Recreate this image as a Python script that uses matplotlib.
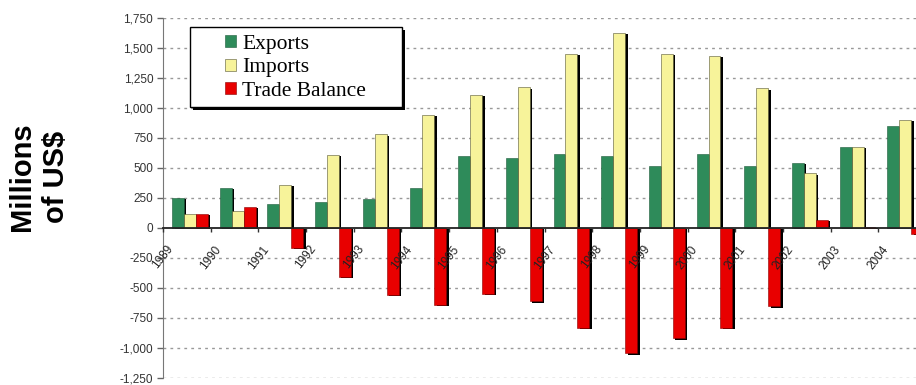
import numpy as np
import matplotlib
matplotlib.use('Agg')
import matplotlib.pyplot as plt
import matplotlib.patheffects as pe
from matplotlib.patches import Rectangle
from matplotlib.ticker import FuncFormatter

years = ['1989', '1990', '1991', '1992', '1993', '1994', '1995', '1996',
         '1997', '1998', '1999', '2000', '2001', '2002', '2003', '2004']
exports = [249, 333, 204, 218, 240, 333, 601, 584, 618, 598, 514, 618, 520, 545, 679, 849]
imports = [120, 142, 360, 612, 780, 945, 1112, 1171, 1450, 1624, 1450, 1433, 1163, 455, 673, 903]
balance = [115, 176, -165, -411, -556, -640, -551, -612, -835, -1045, -920, -835, -654, 70, 6, -50]

c_exp = '#2e8b5a'
c_imp = '#f7f39a'
c_bal = '#e80000'

fig = plt.figure(figsize=(9.16, 3.85), dpi=100)
ax = fig.add_axes([163/916, 1-378/385, 763/916, 360/385])

# axis line sits on zero, set before the ticks so they are not reset
ax.spines['top'].set_visible(False)
ax.spines['right'].set_visible(False)
ax.spines['bottom'].set_position(('data', 0))
ax.spines['bottom'].set_color('#222222')
ax.spines['bottom'].set_linewidth(1.3)
ax.spines['bottom'].set_zorder(4)
ax.spines['left'].set_color('#777777')

x = np.arange(len(years))
w = 0.25
shadow = [pe.SimplePatchShadow(offset=(1.8, -0.8), shadow_rgbFace='k', alpha=1.0), pe.Normal()]

b1 = ax.bar(x, exports, w, align='edge', color=c_exp, edgecolor='#1d5a3a', lw=0.4, zorder=3)
b2 = ax.bar(x+w, imports, w, align='edge', color=c_imp, edgecolor='#555533', lw=0.4, zorder=3)
b3 = ax.bar(x+2*w, balance, w, align='edge', color=c_bal, edgecolor='#8a0000', lw=0.4, zorder=3)
for bars in (b1, b2, b3):
    for p in bars:
        p.set_path_effects(shadow)

ax.set_xlim(-0.19, len(years)-0.19)
ax.set_ylim(-1250, 1750)

yt = np.arange(-1250, 1751, 250)
ax.set_yticks(yt)
ax.yaxis.set_major_formatter(FuncFormatter(lambda v, p: '{:,}'.format(int(v))))
for v in yt:
    if v != 0:
        ax.axhline(v, color='#999999', lw=1.0, ls=(0, (2, 3)), zorder=1)

ax.set_xticks(x - 0.19)
ax.set_xticklabels(years)
ax.tick_params(axis='x', direction='out', length=3, width=1, pad=8, color='#333333',
               labelrotation=52, labelsize=8.5, labelcolor='#222222')
ax.tick_params(axis='y', direction='out', length=4, width=1, pad=3, color='#666666',
               labelsize=8.5, labelcolor='#333333')
for lab in ax.get_xticklabels():
    lab.set_fontfamily('Liberation Sans')
    lab.set_ha('center')
    lab.set_rotation_mode('default')
for lab in ax.get_yticklabels():
    lab.set_fontfamily('Liberation Sans')
ax.xaxis.set_zorder(4.5)

# legend box
box = Rectangle((27/763, (378-107)/360), 212/763, 80/360, transform=ax.transAxes,
                facecolor='white', edgecolor='black', lw=1.0, zorder=6)
box.set_path_effects([pe.SimplePatchShadow(offset=(2.5, -2.5), shadow_rgbFace='k', alpha=1.0),
                      pe.Normal()])
ax.add_patch(box)
leg = ax.legend([b1[0], b2[0], b3[0]], ['Exports', 'Imports', 'Trade Balance'],
                loc='upper left', bbox_to_anchor=(62/763, (378-35)/360),
                frameon=False, borderpad=0, borderaxespad=0, labelspacing=0.2,
                handlelength=0.5, handleheight=0.5, handletextpad=0.3,
                prop={'family': 'Liberation Serif', 'size': 15.5})
leg.set_zorder(7)
for h in leg.legend_handles:
    h.set_path_effects([])

fig.text(22/916, 1-177/385, 'Millions', rotation=90, ha='center', va='center',
         fontsize=21, fontweight='bold', fontfamily='Liberation Sans')
fig.text(56/916, 1-177/385, 'of US$', rotation=90, ha='center', va='center',
         fontsize=21, fontweight='bold', fontfamily='Liberation Sans')

fig.savefig('out.png', dpi=100)
